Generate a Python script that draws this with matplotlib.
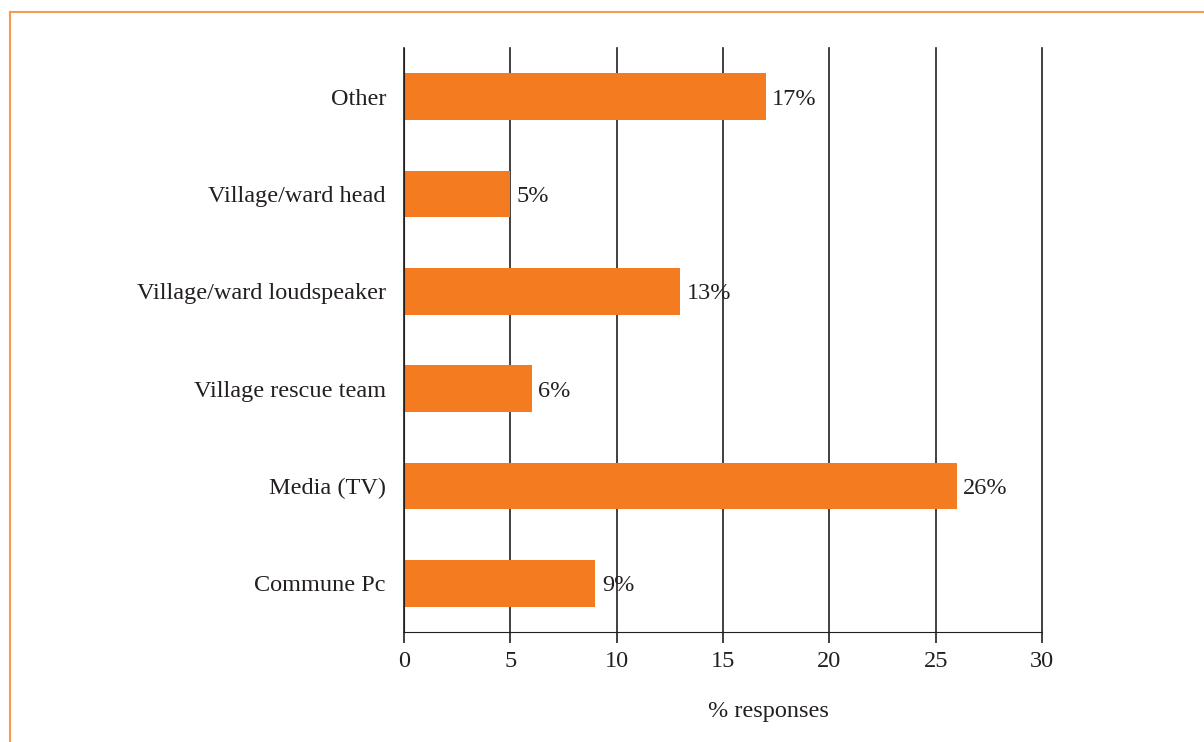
import matplotlib.pyplot as plt
from matplotlib.patches import Rectangle

plt.rcParams['font.family'] = ['Liberation Serif', 'DejaVu Serif']

categories = ['Commune Pc', 'Media (TV)', 'Village rescue team',
              'Village/ward loudspeaker', 'Village/ward head', 'Other']
values = [9, 26, 6, 13, 5, 17]
xticks = [0, 5, 10, 15, 20, 25, 30]

W, H = 1204, 742
FS = 17.5
INK = '#231F20'
fig = plt.figure(figsize=(W / 100, H / 100), dpi=100)

# orange frame around the figure (only top and left edges show)
fig.patches.append(Rectangle((10 / W, -0.1), 1.2, 1 - 12 / H + 0.1,
                             transform=fig.transFigure, fill=False,
                             edgecolor='#F79A4C', linewidth=1.5))

ax = fig.add_axes([404 / W, 1 - 632 / H, (1042 - 404) / W, (632 - 48) / H])

pos = range(len(categories))
ax.barh(pos, values, height=0.48, color='#F47B20', zorder=3)
for p, v in zip(pos, values):
    ax.text(v + 0.3, p, f'{v}%', va='center_baseline', ha='left', fontsize=FS,
            color=INK, zorder=4)

ax.set_xlim(0, 30)
ax.set_ylim(-0.5, 5.5)
ax.set_xticks(xticks)
ax.set_yticks(list(pos))
ax.set_yticklabels(categories)
ax.grid(axis='x', color=INK, linewidth=1.2, zorder=1)
for gl in ax.get_xgridlines():
    gl.set_clip_on(False)

for s in ['top', 'right']:
    ax.spines[s].set_visible(False)
ax.spines['left'].set_color(INK)
ax.spines['bottom'].set_color(INK)
ax.spines['left'].set_zorder(5)
ax.tick_params(axis='y', length=0, pad=13, labelsize=FS, labelcolor=INK)
ax.tick_params(axis='x', length=8, width=1.2, color=INK, pad=6,
               labelsize=FS, labelcolor=INK)

fig.text(768 / W, 1 - 711 / H, '% responses', ha='center', va='center',
         fontsize=FS, color=INK)

fig.savefig('out.png', dpi=100)
